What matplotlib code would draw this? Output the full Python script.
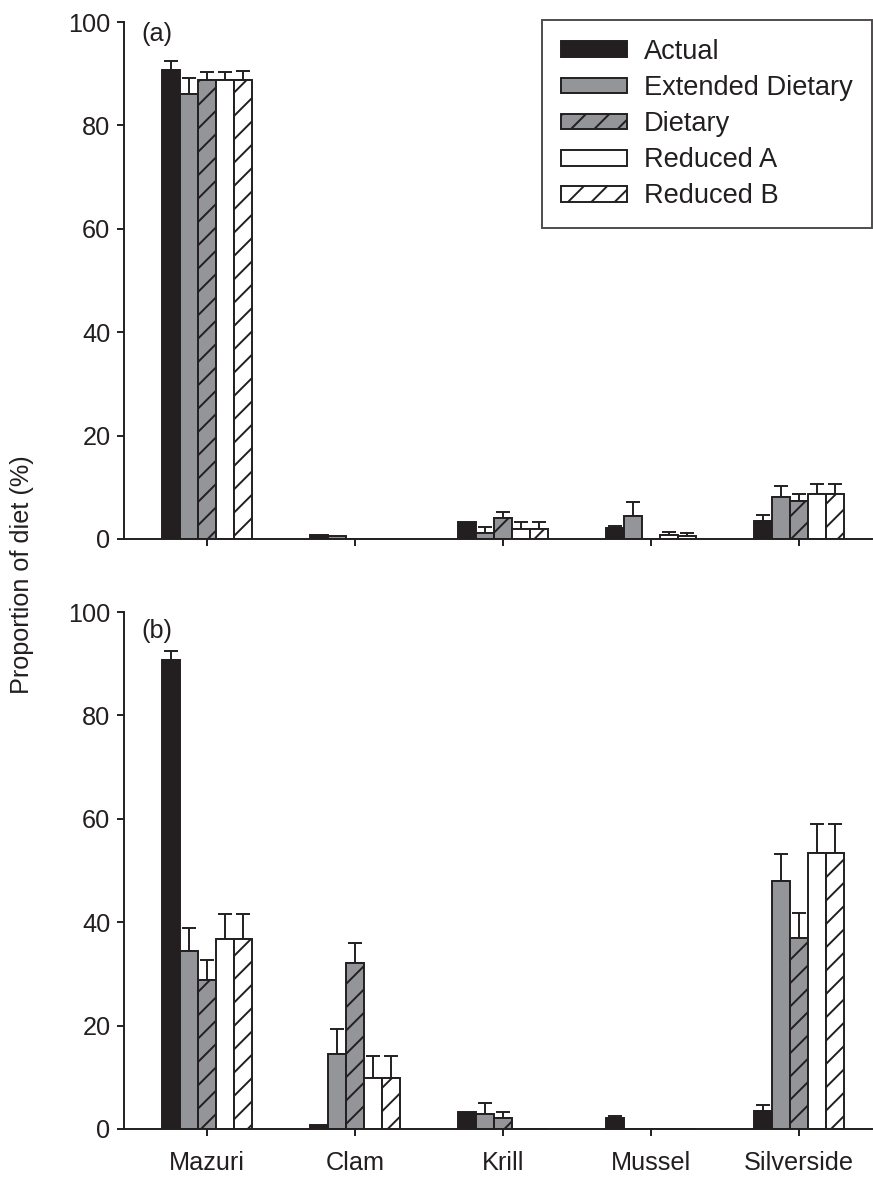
import numpy as np
import matplotlib
matplotlib.use('Agg')
import matplotlib.pyplot as plt

plt.rcParams['font.family'] = ['Liberation Sans', 'DejaVu Sans']
plt.rcParams['hatch.linewidth'] = 1.0

categories = ['Mazuri', 'Clam', 'Krill', 'Mussel', 'Silverside']
series = ['Actual', 'Extended Dietary', 'Dietary', 'Reduced A', 'Reduced B']

# panel (a)
actual_a = [90.7, 0.8, 3.3, 2.1, 3.5]
actual_a_err = [1.7, 0, 0, 0.5, 1.2]
ext_a = [86.0, 0.5, 1.2, 4.5, 8.2]
ext_a_err = [3.1, 0, 1.1, 2.6, 2.1]
diet_a = [88.7, 0, 4.0, 0, 7.4]
diet_a_err = [1.7, 0, 1.2, 0, 1.4]
reda_a = [88.7, 0, 1.9, 0.8, 8.7]
reda_a_err = [1.7, 0, 1.3, 0.5, 1.9]
redb_a = [88.8, 0, 1.9, 0.6, 8.8]
redb_a_err = [1.7, 0, 1.3, 0.5, 1.8]

# panel (b)
actual_b = [90.7, 0.8, 3.3, 2.1, 3.5]
actual_b_err = [1.7, 0, 0, 0.5, 1.2]
ext_b = [34.4, 14.6, 2.9, 0, 47.9]
ext_b_err = [4.5, 4.7, 2.1, 0, 5.3]
diet_b = [28.8, 32.2, 2.2, 0, 37.0]
diet_b_err = [3.9, 3.8, 1.0, 0, 4.8]
reda_b = [36.8, 9.9, 0, 0, 53.3]
reda_b_err = [4.8, 4.3, 0, 0, 5.7]
redb_b = [36.8, 9.9, 0, 0, 53.3]
redb_b_err = [4.8, 4.3, 0, 0, 5.7]

black = '#231f20'
grey = '#939598'
fills = [black, grey, grey, 'white', 'white']
hatches = [None, None, '//', None, '//']

W, H, dpi = 873, 1179, 140
fig = plt.figure(figsize=(W / dpi, H / dpi), dpi=dpi)
ax_a = fig.add_axes([124 / W, 1 - 539 / H, (872 - 124) / W, (539 - 22) / H])
ax_b = fig.add_axes([124 / W, 1 - 1129 / H, (872 - 124) / W, (1129 - 612) / H])

x = np.arange(len(categories))
width = 0.1216

def draw_panel(ax, vals, errs):
    for i in range(5):
        xi = x + (i - 2) * width
        v = np.array(vals[i], dtype=float)
        e = np.array(errs[i], dtype=float)
        ax.bar(xi, v, width, color=fills[i], edgecolor=black, linewidth=1.0,
               hatch=hatches[i], label=series[i], zorder=2)
        m = e > 0
        ax.errorbar(xi[m], v[m], yerr=[np.zeros(m.sum()), e[m]], fmt='none',
                    ecolor=black, elinewidth=1.0, capsize=3.6, capthick=1.0, zorder=1)
    ax.set_xlim(-0.561, 4.493)
    ax.set_ylim(0, 100)
    ax.set_yticks([0, 20, 40, 60, 80, 100])
    ax.set_xticks(x)
    for s in ['top', 'right']:
        ax.spines[s].set_visible(False)
    for s in ['left', 'bottom']:
        ax.spines[s].set_linewidth(1.0)
        ax.spines[s].set_color(black)
    ax.tick_params(axis='y', direction='out', length=3.5, width=1.0, pad=3.5,
                   labelsize=13, colors=black)
    ax.tick_params(axis='x', direction='out', length=3.5, width=1.0, pad=8,
                   labelsize=13, colors=black)

draw_panel(ax_a, [actual_a, ext_a, diet_a, reda_a, redb_a],
           [actual_a_err, ext_a_err, diet_a_err, reda_a_err, redb_a_err])
draw_panel(ax_b, [actual_b, ext_b, diet_b, reda_b, redb_b],
           [actual_b_err, ext_b_err, diet_b_err, reda_b_err, redb_b_err])

ax_a.set_xticklabels([])
ax_b.set_xticklabels(categories)

fig.text(141 / W, 1 - 34 / H, '(a)', fontsize=13, va='center', ha='left', color=black)
fig.text(141 / W, 1 - 631 / H, '(b)', fontsize=13, va='center', ha='left', color=black)
fig.text(22 / W, 1 - 575 / H, 'Proportion of diet (%)', rotation=90, fontsize=13,
         va='center', ha='center', color=black)

leg = ax_a.legend(loc='upper right', bbox_to_anchor=(872 / W, 1 - 20 / H),
                  bbox_transform=fig.transFigure, fontsize=14, frameon=True,
                  fancybox=False, borderaxespad=0, handlelength=2.45, handleheight=0.52,
                  handletextpad=0.62, labelspacing=0.37, borderpad=0.7)
leg.get_frame().set_edgecolor(black)
leg.get_frame().set_linewidth(1.0)
for t in leg.get_texts():
    t.set_color(black)

fig.savefig('out.png', dpi=dpi)
